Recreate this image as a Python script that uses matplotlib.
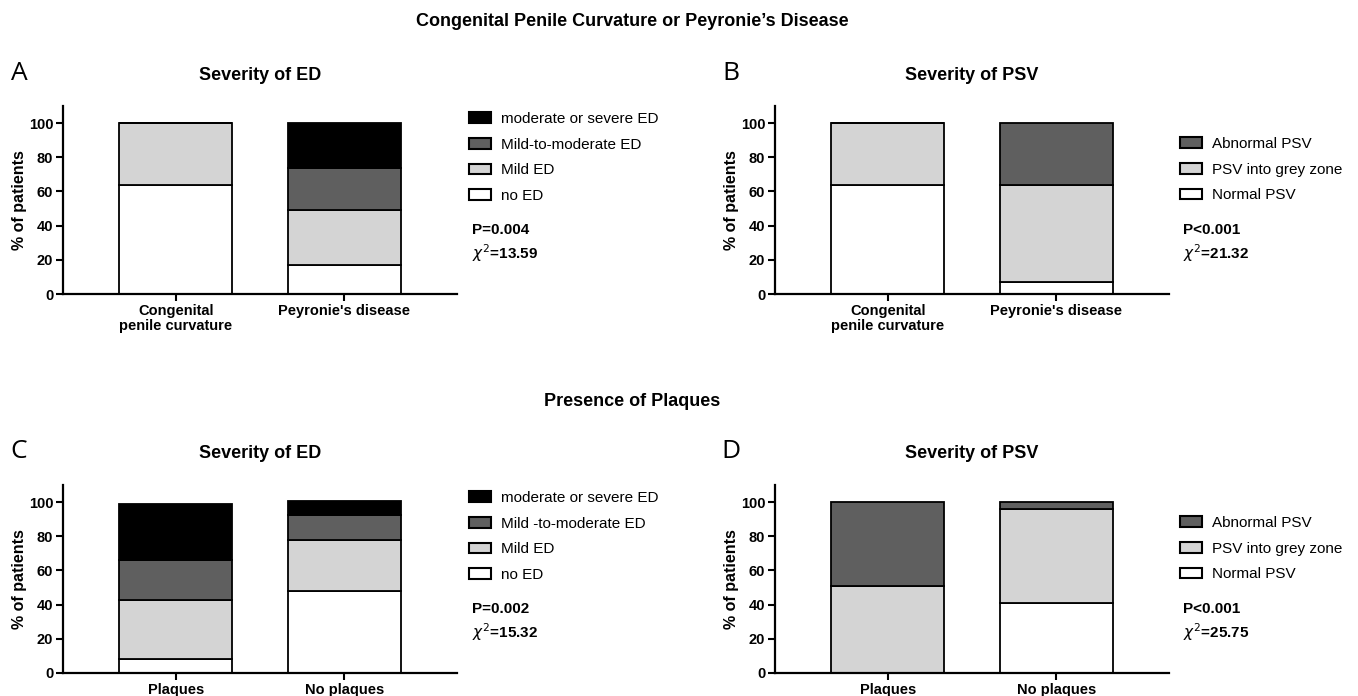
import numpy as np
import matplotlib
matplotlib.use('Agg')
import matplotlib.pyplot as plt

plt.rcParams['font.family'] = ['Liberation Sans', 'DejaVu Sans']

W, H = 1358, 696

# data (percent of patients)
groups_ab = ['Congenital\npenile curvature', "Peyronie's disease"]
groups_cd = ['Plaques', 'No plaques']

ed_labels_a = ['no ED', 'Mild ED', 'Mild-to-moderate ED', 'moderate or severe ED']
ed_labels_c = ['no ED', 'Mild ED', 'Mild -to-moderate ED', 'moderate or severe ED']
psv_labels = ['Normal PSV', 'PSV into grey zone', 'Abnormal PSV']

a_no_ed    = [64, 17]
a_mild     = [36, 32]
a_mild_mod = [0, 25]
a_severe   = [0, 26]

b_normal   = [64, 7]
b_grey     = [36, 57]
b_abnormal = [0, 36]

c_no_ed    = [8, 48]
c_mild     = [35, 30]
c_mild_mod = [23, 14.5]
c_severe   = [33, 8]

d_normal   = [0, 41]
d_grey     = [51, 55]
d_abnormal = [49, 4]

p_text   = ['P=0.004', 'P<0.001', 'P=0.002', 'P<0.001']
chi_text = ['13.59', '21.32', '15.32', '25.75']

ed_colors  = ['white', '#d4d4d4', '#5f5f5f', 'black']
psv_colors = ['white', '#d4d4d4', '#5f5f5f']


def fx(x):
    return x / W


def fy(y):
    return 1 - y / H


fig = plt.figure(figsize=(W / 100, H / 100), dpi=100)


def panel(left, base, letter, title, groups, series, labels, colors, leg_x, leg_y, p, chi):
    ax = fig.add_axes([fx(left), fy(base), 394 / W, 188 / H])
    x = np.arange(len(groups))
    bottom = np.zeros(len(groups))
    handles = []
    for vals, lab, col in zip(series, labels, colors):
        h = ax.bar(x, vals, 0.67, bottom=bottom, color=col, edgecolor='black',
                   linewidth=1.3, label=lab)
        handles.append(h)
        bottom = bottom + np.array(vals)
    ax.set_xlim(-0.67, 1.67)
    ax.set_ylim(0, 110)
    ax.set_yticks([0, 20, 40, 60, 80, 100])
    ax.set_xticks(x)
    ax.set_xticklabels(groups, fontweight='bold', fontsize=10.5, linespacing=1.1)
    for t in ax.get_yticklabels():
        t.set_fontweight('bold')
        t.set_fontsize(10.5)
    ax.tick_params(axis='both', length=5, width=1.5, pad=2, colors='black')
    for s in ['top', 'right']:
        ax.spines[s].set_visible(False)
    for s in ['left', 'bottom']:
        ax.spines[s].set_linewidth(1.6)
    ax.set_ylabel('% of patients', fontweight='bold', fontsize=11.5, labelpad=1)

    fig.text(fx(left - 44), fy(base - 221), letter, fontsize=19, family='Open Sans',
             fontweight='normal', ha='center', va='center')
    fig.text(fx(left + 197), fy(base - 219), title, fontsize=13, fontweight='bold',
             ha='center', va='center')

    leg = ax.legend(handles[::-1], labels[::-1], loc='upper left',
                    bbox_to_anchor=(fx(leg_x), fy(leg_y)), bbox_transform=fig.transFigure,
                    frameon=False, fontsize=11, handlelength=1.45, handleheight=0.7,
                    handletextpad=0.65, labelspacing=0.76, borderpad=0, borderaxespad=0)
    for ptch in leg.get_patches():
        ptch.set_linewidth(1.5)
    fig.text(fx(leg_x + 3), fy(base - 64), p, fontsize=11, fontweight='bold',
             va='center', ha='left')
    fig.text(fx(leg_x + 3), fy(base - 41), r'$\chi^2$=' + chi, fontsize=11,
             fontweight='bold', va='center', ha='left')
    return ax


panel(63, 294, 'A', 'Severity of ED', groups_ab,
      [a_no_ed, a_mild, a_mild_mod, a_severe], ed_labels_a, ed_colors,
      469, 112, p_text[0], chi_text[0])
panel(775, 294, 'B', 'Severity of PSV', groups_ab,
      [b_normal, b_grey, b_abnormal], psv_labels, psv_colors,
      1180, 137, p_text[1], chi_text[1])
panel(63, 673, 'C', 'Severity of ED', groups_cd,
      [c_no_ed, c_mild, c_mild_mod, c_severe], ed_labels_c, ed_colors,
      469, 491, p_text[2], chi_text[2])
panel(775, 673, 'D', 'Severity of PSV', groups_cd,
      [d_normal, d_grey, d_abnormal], psv_labels, psv_colors,
      1180, 516, p_text[3], chi_text[3])

fig.text(fx(632), fy(21), 'Congenital Penile Curvature or Peyronie\u2019s Disease',
         fontsize=13, fontweight='bold', ha='center', va='center')
fig.text(fx(632), fy(401), 'Presence of Plaques', fontsize=13, fontweight='bold',
         ha='center', va='center')

fig.savefig('out.png', dpi=100)
